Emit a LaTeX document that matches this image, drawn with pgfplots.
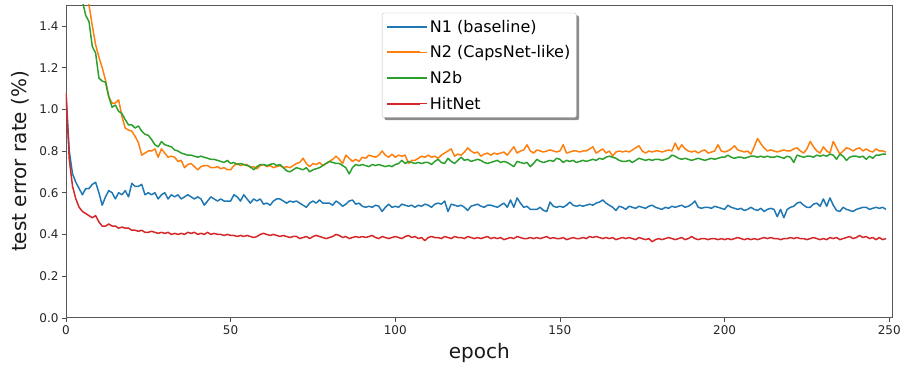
\documentclass[border=0pt]{standalone}
\usepackage{fontspec}
\setmainfont{DejaVu Sans}
\usepackage{pgfplots}
\usepackage{pgfplotstable}
\pgfplotsset{compat=1.18}
\pgfdeclarelayer{background}
\pgfsetlayers{background,main}
\definecolor{c1}{HTML}{1F77B4}
\definecolor{c2}{HTML}{FF7F0E}
\definecolor{c3}{HTML}{2CA02C}
\definecolor{c4}{HTML}{D62728}
\pgfplotstableread{
n1 n2 n2b hit
1.08 3.0 3.5 1.08
0.80 2.6 2.8 0.76
0.69 2.3 2.3 0.63
0.65 2.05 1.95 0.57
0.62 1.9 1.7 0.53
0.59 1.75 1.52 0.51
0.62 1.62 1.45 0.50
0.62 1.5 1.42 0.49
0.64 1.40 1.30 0.48
0.65 1.31 1.27 0.49
0.60 1.25 1.15 0.46
0.54 1.20 1.135 0.44
0.58 1.14 1.13 0.44
0.61 1.06 1.06 0.45
0.60 1.03 1.01 0.44
0.57 1.03 1.02 0.44
0.60 1.045 0.99 0.43
0.59 0.965 0.98 0.435
0.61 0.91 0.95 0.43
0.58 0.90 0.925 0.43
0.645 0.895 0.925 0.42
0.63 0.87 0.91 0.42
0.63 0.84 0.92 0.415
0.64 0.78 0.895 0.42
0.59 0.79 0.88 0.41
0.60 0.80 0.875 0.41
0.59 0.80 0.855 0.415
0.60 0.81 0.83 0.41
0.57 0.77 0.82 0.405
0.59 0.81 0.845 0.41
0.60 0.79 0.83 0.405
0.57 0.77 0.825 0.41
0.59 0.775 0.82 0.40
0.58 0.77 0.805 0.405
0.59 0.75 0.80 0.40
0.57 0.755 0.79 0.405
0.58 0.72 0.785 0.40
0.59 0.735 0.78 0.41
0.58 0.74 0.78 0.405
0.57 0.725 0.775 0.41
0.58 0.71 0.77 0.40
0.57 0.725 0.775 0.405
0.54 0.73 0.77 0.40
0.56 0.73 0.765 0.41
0.58 0.72 0.76 0.40
0.57 0.72 0.76 0.405
0.56 0.725 0.755 0.40
0.57 0.715 0.75 0.40
0.56 0.72 0.745 0.395
0.56 0.71 0.755 0.40
0.56 0.71 0.74 0.395
0.59 0.73 0.745 0.395
0.58 0.74 0.735 0.39
0.56 0.73 0.74 0.395
0.59 0.735 0.735 0.39
0.57 0.735 0.73 0.395
0.55 0.72 0.725 0.39
0.57 0.725 0.71 0.385
0.56 0.715 0.725 0.39
0.57 0.73 0.735 0.40
0.545 0.735 0.735 0.405
0.55 0.725 0.73 0.40
0.54 0.73 0.735 0.395
0.56 0.72 0.74 0.40
0.57 0.725 0.73 0.395
0.57 0.73 0.735 0.39
0.56 0.72 0.72 0.395
0.55 0.725 0.705 0.39
0.56 0.72 0.70 0.385
0.555 0.73 0.71 0.39
0.56 0.74 0.72 0.39
0.55 0.745 0.715 0.38
0.54 0.765 0.71 0.385
0.53 0.74 0.72 0.39
0.55 0.725 0.70 0.38
0.56 0.74 0.71 0.39
0.55 0.735 0.715 0.395
0.565 0.745 0.72 0.39
0.55 0.73 0.73 0.385
0.55 0.74 0.74 0.38
0.55 0.75 0.75 0.385
0.54 0.76 0.745 0.39
0.56 0.775 0.74 0.40
0.55 0.76 0.74 0.395
0.535 0.74 0.73 0.385
0.545 0.78 0.72 0.39
0.56 0.765 0.69 0.38
0.565 0.75 0.72 0.385
0.545 0.76 0.735 0.39
0.55 0.75 0.73 0.385
0.535 0.77 0.735 0.39
0.53 0.765 0.73 0.385
0.535 0.78 0.725 0.39
0.53 0.775 0.735 0.395
0.54 0.77 0.73 0.385
0.535 0.78 0.735 0.38
0.51 0.80 0.73 0.39
0.53 0.78 0.725 0.385
0.545 0.77 0.73 0.38
0.53 0.785 0.725 0.385
0.535 0.77 0.735 0.39
0.53 0.78 0.74 0.385
0.545 0.775 0.755 0.38
0.54 0.78 0.74 0.39
0.535 0.74 0.75 0.395
0.54 0.755 0.745 0.385
0.53 0.755 0.74 0.39
0.54 0.765 0.745 0.38
0.535 0.775 0.74 0.385
0.545 0.77 0.745 0.37
0.54 0.78 0.745 0.385
0.53 0.77 0.735 0.39
0.545 0.775 0.75 0.385
0.55 0.765 0.76 0.385
0.545 0.78 0.745 0.38
0.56 0.79 0.74 0.39
0.51 0.80 0.765 0.385
0.545 0.81 0.75 0.38
0.54 0.775 0.74 0.39
0.535 0.785 0.755 0.385
0.54 0.78 0.77 0.385
0.53 0.795 0.755 0.38
0.515 0.815 0.76 0.39
0.535 0.80 0.75 0.385
0.54 0.79 0.755 0.38
0.545 0.795 0.76 0.385
0.535 0.775 0.755 0.38
0.53 0.785 0.745 0.385
0.54 0.79 0.74 0.39
0.54 0.78 0.745 0.38
0.535 0.79 0.75 0.385
0.53 0.785 0.755 0.38
0.54 0.79 0.745 0.385
0.55 0.795 0.75 0.375
0.53 0.78 0.745 0.38
0.565 0.80 0.735 0.385
0.53 0.82 0.725 0.38
0.575 0.79 0.75 0.39
0.55 0.80 0.745 0.385
0.53 0.805 0.74 0.38
0.535 0.83 0.745 0.38
0.52 0.80 0.725 0.385
0.52 0.79 0.74 0.38
0.52 0.805 0.76 0.385
0.53 0.80 0.75 0.38
0.515 0.795 0.745 0.385
0.51 0.80 0.75 0.39
0.555 0.805 0.755 0.38
0.535 0.80 0.75 0.385
0.53 0.795 0.765 0.38
0.535 0.80 0.76 0.38
0.53 0.83 0.745 0.385
0.54 0.79 0.755 0.375
0.555 0.795 0.75 0.38
0.54 0.80 0.755 0.385
0.535 0.80 0.745 0.38
0.54 0.795 0.75 0.38
0.535 0.80 0.755 0.385
0.54 0.80 0.75 0.38
0.545 0.81 0.755 0.39
0.54 0.82 0.76 0.385
0.55 0.79 0.755 0.39
0.555 0.80 0.765 0.385
0.565 0.81 0.76 0.38
0.55 0.79 0.77 0.385
0.54 0.80 0.775 0.38
0.53 0.775 0.77 0.385
0.515 0.795 0.765 0.375
0.535 0.80 0.755 0.38
0.53 0.795 0.75 0.385
0.52 0.80 0.75 0.38
0.535 0.795 0.755 0.385
0.53 0.805 0.745 0.38
0.525 0.815 0.755 0.375
0.535 0.825 0.765 0.385
0.53 0.80 0.76 0.38
0.525 0.79 0.755 0.375
0.535 0.80 0.76 0.38
0.54 0.795 0.755 0.365
0.53 0.80 0.76 0.375
0.525 0.80 0.76 0.38
0.52 0.795 0.755 0.375
0.53 0.80 0.76 0.38
0.525 0.805 0.765 0.385
0.535 0.80 0.78 0.38
0.53 0.838 0.775 0.375
0.535 0.805 0.765 0.38
0.54 0.83 0.76 0.385
0.53 0.81 0.765 0.375
0.535 0.80 0.76 0.38
0.545 0.795 0.755 0.39
0.56 0.80 0.76 0.38
0.53 0.79 0.765 0.375
0.525 0.80 0.76 0.38
0.53 0.805 0.755 0.38
0.53 0.79 0.76 0.375
0.525 0.795 0.765 0.38
0.535 0.80 0.76 0.38
0.53 0.83 0.765 0.375
0.525 0.80 0.77 0.38
0.52 0.795 0.77 0.375
0.54 0.80 0.78 0.38
0.53 0.81 0.77 0.375
0.525 0.825 0.765 0.38
0.52 0.805 0.77 0.385
0.525 0.80 0.77 0.38
0.515 0.795 0.765 0.375
0.52 0.80 0.77 0.38
0.53 0.785 0.775 0.375
0.52 0.82 0.775 0.38
0.515 0.86 0.77 0.375
0.525 0.835 0.775 0.38
0.51 0.815 0.77 0.385
0.52 0.80 0.775 0.38
0.525 0.805 0.77 0.385
0.52 0.80 0.77 0.38
0.485 0.795 0.775 0.38
0.52 0.80 0.77 0.375
0.48 0.805 0.765 0.38
0.52 0.80 0.775 0.38
0.53 0.80 0.77 0.385
0.535 0.81 0.745 0.38
0.55 0.815 0.78 0.385
0.555 0.80 0.775 0.38
0.54 0.79 0.77 0.38
0.53 0.81 0.775 0.375
0.53 0.846 0.775 0.38
0.545 0.82 0.77 0.385
0.55 0.80 0.78 0.38
0.535 0.79 0.775 0.375
0.57 0.82 0.78 0.38
0.535 0.80 0.775 0.375
0.575 0.79 0.785 0.385
0.54 0.846 0.78 0.38
0.515 0.815 0.76 0.385
0.51 0.785 0.785 0.375
0.53 0.80 0.775 0.38
0.52 0.815 0.755 0.385
0.515 0.81 0.77 0.39
0.51 0.80 0.775 0.38
0.52 0.81 0.775 0.385
0.525 0.815 0.77 0.395
0.53 0.80 0.775 0.385
0.53 0.81 0.76 0.39
0.52 0.80 0.775 0.38
0.525 0.795 0.765 0.385
0.53 0.81 0.78 0.375
0.525 0.80 0.78 0.385
0.53 0.80 0.785 0.375
0.52 0.795 0.785 0.38
}\datatable
\begin{document}
\begin{tikzpicture}
\begin{axis}[
  scale only axis,
  width=827bp, height=313bp,
  xmin=0, xmax=251, ymin=0, ymax=1.5,
  xtick={0,50,100,150,200,250},
  ytick={0,0.2,0.4,0.6,0.8,1.0,1.2,1.4},
  yticklabel style={/pgf/number format/.cd, fixed, fixed zerofill, precision=1},
  /pgf/number format/assume math mode=true,
  ticklabel style={font=\fontsize{12bp}{14bp}\selectfont, text=black!85},
  tick align=outside,
  xtick pos=bottom, ytick pos=left,
  major tick length=4bp,
  tick style={black!70, line width=0.6pt},
  axis line style={black!65, line width=0.8pt},
  xlabel={epoch}, ylabel={test error rate (\%)},
  label style={font=\fontsize{20bp}{24bp}\selectfont, text=black!90},
  xlabel style={at={(axis description cs:0.5,-0.112)}, anchor=center},
  ylabel style={at={(axis description cs:-0.0556,0.5)}, anchor=center},
  legend style={name=leg, at={(0.5,0.975)}, anchor=north, draw=black!25, fill=white,
    rounded corners=2bp, font=\fontsize{16bp}{19bp}\selectfont,
    inner xsep=4bp, inner ysep=5bp, row sep=8bp},
  legend cell align=left,
  legend image code/.code={\draw[#1, line width=2bp] (0bp,0bp) -- (33bp,0bp); \path (0bp,0bp) -- (40bp,0bp);},
  every axis plot/.append style={line width=1.5pt, line join=round},
]
\addplot[c1] table[x expr=\coordindex, y=n1] {\datatable};
\addplot[c2] table[x expr=\coordindex, y=n2] {\datatable};
\addplot[c3] table[x expr=\coordindex, y=n2b] {\datatable};
\addplot[c4] table[x expr=\coordindex, y=hit] {\datatable};
\legend{N1 (baseline), N2 (CapsNet-like), N2b, HitNet}
\end{axis}
\begin{pgfonlayer}{background}
\fill[black!45, rounded corners=2bp] ([xshift=2.5bp,yshift=-2.5bp]leg.south west) rectangle ([xshift=2.5bp,yshift=-2.5bp]leg.north east);
\end{pgfonlayer}
\useasboundingbox (-66bp,-47bp) rectangle (838bp,318bp);
\end{tikzpicture}
\end{document}
